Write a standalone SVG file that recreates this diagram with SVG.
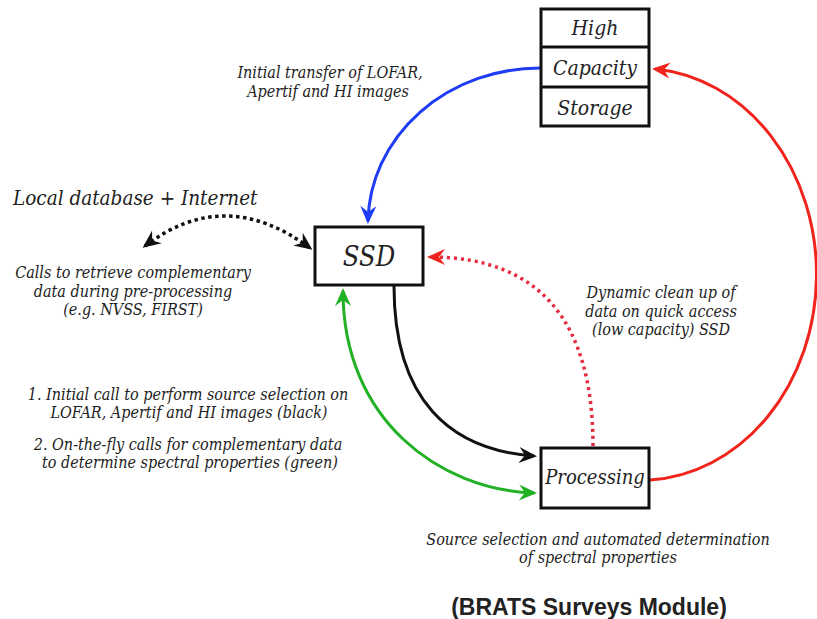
<svg xmlns="http://www.w3.org/2000/svg" width="817" height="619" viewBox="0 0 817 619">
<style>
.t{font-family:"DejaVu Serif","Liberation Serif",serif;font-style:italic;font-stretch:condensed;fill:#222;}
.s{font-size:16px;}
.box{fill:#fff;stroke:#111;stroke-width:3;}
.c{fill:none;stroke-width:3;}
</style>
<defs>
<marker id="ak" viewBox="-20 -10 22 20" refX="-3" refY="0" markerWidth="22" markerHeight="20" markerUnits="userSpaceOnUse" orient="auto-start-reverse"><path d="M0,0 L-18,-8 L-12,0 L-18,8 Z" fill="#111"/></marker>
<marker id="ab" viewBox="-20 -10 22 20" refX="-3" refY="0" markerWidth="22" markerHeight="20" markerUnits="userSpaceOnUse" orient="auto-start-reverse"><path d="M0,0 L-18,-8 L-12,0 L-18,8 Z" fill="#1f3cf5"/></marker>
<marker id="ar" viewBox="-20 -10 22 20" refX="-3" refY="0" markerWidth="22" markerHeight="20" markerUnits="userSpaceOnUse" orient="auto-start-reverse"><path d="M0,0 L-18,-8 L-12,0 L-18,8 Z" fill="#f0241c"/></marker>
<marker id="ag" viewBox="-20 -10 22 20" refX="-3" refY="0" markerWidth="22" markerHeight="20" markerUnits="userSpaceOnUse" orient="auto-start-reverse"><path d="M0,0 L-18,-8 L-12,0 L-18,8 Z" fill="#22b024"/></marker>
</defs>

<g id="connectors">
<path class="c" d="M541,68 A172 156 0 0 0 368,221" stroke="#1f3cf5" marker-end="url(#ab)"/>
<path class="c" d="M650,480 A176 206 0 0 0 655,69" stroke="#f0241c" marker-end="url(#ar)"/>
<path class="c" d="M394,286 C394,400 450,450 534,456" stroke="#111" marker-end="url(#ak)"/>
<path class="c" d="M343,291 C343,420 440,490 534,493" stroke="#22b024" marker-start="url(#ag)" marker-end="url(#ag)"/>
<path d="M145,246 Q225,185 310,248" fill="none" stroke="#111" stroke-width="3.5" stroke-dasharray="3.5 3.5" marker-start="url(#ak)" marker-end="url(#ak)"/>
<path d="M593,446 Q593,257 430,257" fill="none" stroke="#e8283c" stroke-width="3.5" stroke-dasharray="3 4" marker-end="url(#ar)"/>
</g>

<g id="storage">
<rect class="box" x="541" y="9" width="108" height="117"/>
<line x1="541" y1="47" x2="649" y2="47" stroke="#111" stroke-width="3"/>
<line x1="541" y1="87" x2="649" y2="87" stroke="#111" stroke-width="3"/>
<text class="t" x="595" y="35" font-size="21" text-anchor="middle">High</text>
<text class="t" x="595" y="75" font-size="21" text-anchor="middle">Capacity</text>
<text class="t" x="595" y="115" font-size="21" text-anchor="middle">Storage</text>
</g>

<g id="ssd">
<rect class="box" x="315" y="227" width="108" height="58"/>
<text class="t" x="369" y="266" font-size="27" text-anchor="middle">SSD</text>
</g>

<g id="processing">
<rect class="box" x="541" y="448" width="108" height="60"/>
<text class="t" x="595" y="484" font-size="20" text-anchor="middle">Processing</text>
</g>

<g id="labels">
<text class="t" x="13" y="205" font-size="20.5">Local database + Internet</text>
<text class="t s" x="133" y="278" text-anchor="middle">Calls to retrieve complementary</text>
<text class="t s" x="133" y="297" text-anchor="middle">data during pre-processing</text>
<text class="t s" x="133" y="315" text-anchor="middle">(e.g. NVSS, FIRST)</text>
<text class="t s" x="330" y="78" text-anchor="middle">Initial transfer of LOFAR,</text>
<text class="t s" x="328" y="97" text-anchor="middle">Apertif and HI images</text>
<text class="t s" x="188" y="400" text-anchor="middle">1. Initial call to perform source selection on</text>
<text class="t s" x="189" y="418" text-anchor="middle">LOFAR, Apertif and HI images (black)</text>
<text class="t s" x="188" y="450" text-anchor="middle">2. On-the-fly calls for complementary data</text>
<text class="t s" x="190" y="468" text-anchor="middle">to determine spectral properties (green)</text>
<text class="t s" x="661" y="298" text-anchor="middle">Dynamic clean up of</text>
<text class="t s" x="661" y="317" text-anchor="middle">data on quick access</text>
<text class="t s" x="661" y="335" text-anchor="middle">(low capacity) SSD</text>
<text class="t s" x="598" y="545" text-anchor="middle">Source selection and automated determination</text>
<text class="t s" x="598" y="563" text-anchor="middle">of  spectral properties</text>
<text x="589" y="615" font-family="'Liberation Sans',Arial,sans-serif" font-weight="bold" font-size="23" fill="#222" text-anchor="middle">(BRATS Surveys Module)</text>
</g>
</svg>
